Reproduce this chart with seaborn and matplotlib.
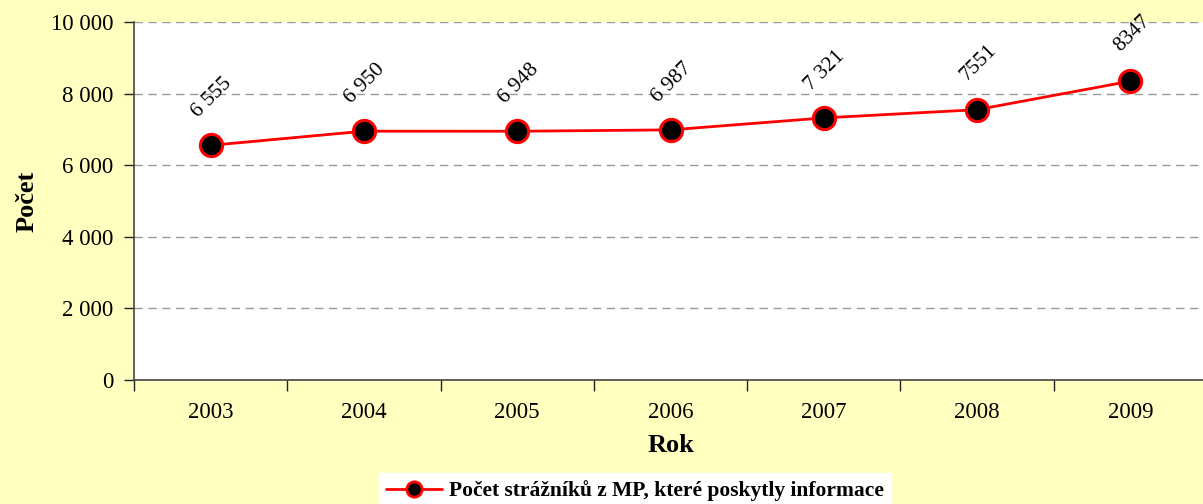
import numpy as np
import pandas as pd
import matplotlib
matplotlib.use("Agg")
import matplotlib.pyplot as plt
from matplotlib.ticker import FuncFormatter, MultipleLocator
import seaborn as sns

roky = ["2003", "2004", "2005", "2006", "2007", "2008", "2009"]
pocty = [6555, 6950, 6948, 6987, 7321, 7551, 8347]
popisky = ["6 555", "6 950", "6 948", "6 987", "7 321", "7551", "8347"]
nazev_rady = "Počet strážníků z MP, které poskytly informace"

df = pd.DataFrame({"Rok": roky, "Počet": pocty})

sns.set_theme(style="white")
plt.rcParams["font.family"] = ["Liberation Serif", "DejaVu Serif"]
plt.rcParams["text.color"] = "black"
plt.rcParams["xtick.color"] = "black"
plt.rcParams["ytick.color"] = "black"
plt.rcParams["axes.labelcolor"] = "black"

fig = plt.figure(figsize=(12.03, 5.04), dpi=100, facecolor="#FFFFC0")
# osa pokracuje kousek za pravy okraj obrazku
ax = fig.add_axes([134 / 1203, 1 - 380 / 504, (1207 - 134) / 1203, (380 - 22) / 504])
ax.set_facecolor("white")

sns.lineplot(data=df, x="Rok", y="Počet", ax=ax, color="red", lw=2,
             marker="o", markersize=16, markerfacecolor="black",
             markeredgecolor="red", markeredgewidth=2.2, legend=False)

for i, (v, t) in enumerate(zip(pocty, popisky)):
    ax.annotate(t, (i, v), xytext=(1, 34), textcoords="offset points",
                ha="center", va="center", rotation=45, fontsize=15.5)

ax.set_xlim(-0.5, len(roky) - 0.5)
ax.set_ylim(0, 10000)
ax.yaxis.set_major_locator(MultipleLocator(2000))
ax.yaxis.set_major_formatter(FuncFormatter(lambda v, p: f"{int(v):,}".replace(",", " ")))
ax.set_xticks(np.arange(len(roky)))
ax.set_xticklabels(roky)
ax.set_xticks(np.arange(len(roky) + 1) - 0.5, minor=True)
ax.tick_params(axis="x", which="major", bottom=False, length=0, pad=16, labelsize=16.5)
ax.tick_params(axis="x", which="minor", bottom=True, length=8, width=1, color="#222222", direction="out")
ax.tick_params(axis="y", which="major", left=True, length=7, width=1, color="#222222",
               direction="out", labelsize=16.5, pad=8)

ax.grid(axis="y", linestyle=(0, (6, 4)), color="#999999", lw=1)
ax.set_axisbelow(True)
for s in ["top", "right"]:
    ax.spines[s].set_visible(False)
for s in ["left", "bottom"]:
    ax.spines[s].set_color("#444444")
    ax.spines[s].set_linewidth(1.2)

ax.set_xlabel("Rok", fontsize=19, fontweight="bold", labelpad=8)
ax.set_ylabel("Počet", fontsize=19, fontweight="bold", labelpad=9)

# legenda dole, bily box bez okraje
handle = plt.Line2D([], [], color="red", lw=2, marker="o", markersize=11,
                    markerfacecolor="black", markeredgecolor="red", markeredgewidth=2)
fig.legend([handle], [nazev_rady], loc="center", bbox_to_anchor=(635 / 1203, 1 - 491 / 504),
           frameon=True, fancybox=False, edgecolor="white", facecolor="white", framealpha=1,
           prop={"weight": "bold", "size": 15.5}, handlelength=2.6, borderpad=0.35,
           handletextpad=0.3, borderaxespad=0)

fig.savefig("out.png", dpi=100, facecolor=fig.get_facecolor())
